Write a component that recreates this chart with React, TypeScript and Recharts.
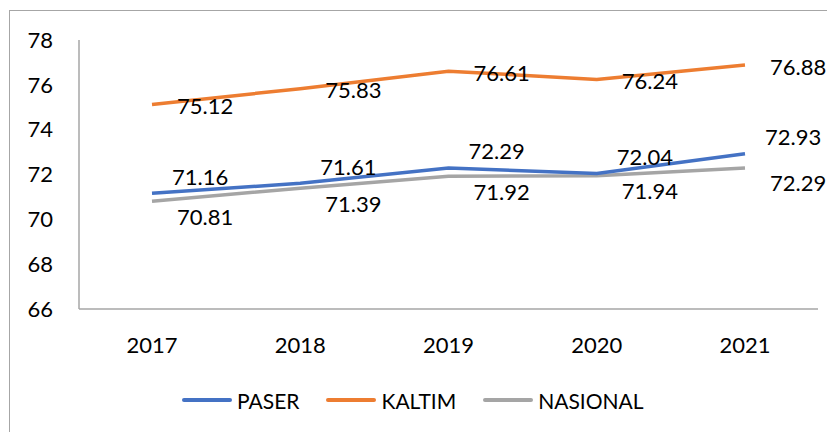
import React from "react";
import { LineChart, Line, XAxis, YAxis } from "recharts";

const years = ["2017", "2018", "2019", "2020", "2021"];
const paser = [71.16, 71.61, 72.29, 72.04, 72.93];
const kaltim = [75.12, 75.83, 76.61, 76.24, 76.88];
const nasional = [70.81, 71.39, 71.92, 71.94, 72.29];
const yTicks = [66, 68, 70, 72, 74, 76, 78];

const seriesNames = ["PASER", "KALTIM", "NASIONAL"];
const colors = ["#4472C4", "#ED7D31", "#A5A5A5"];

const data = years.map((y, i) => ({
  year: y,
  PASER: paser[i],
  KALTIM: kaltim[i],
  NASIONAL: nasional[i],
}));

const FONT = "Lato, 'Open Sans', sans-serif";

const makeLabel = (dx: number, dy: number) => (props: any) => {
  const { x, y, value, index } = props;
  return (
    <text
      key={index}
      x={x + dx}
      y={y + dy}
      textAnchor="start"
      dominantBaseline="central"
      fontSize={22}
      fontFamily={FONT}
      fill="#000"
    >
      {Number(value).toFixed(2)}
    </text>
  );
};

export default function App() {
  return (
    <div style={{ position: "relative", width: 827, height: 424 }}>
      <div
        style={{
          position: "absolute",
          left: 1,
          top: 2,
          width: 900,
          height: 500,
          borderTop: "1px solid #A6A6A6",
          borderLeft: "1px solid #A6A6A6",
          boxSizing: "border-box",
        }}
      />
      <div style={{ position: "absolute", left: -8, top: -8 }}>
        <LineChart
          width={835}
          height={432}
          data={data}
          margin={{ top: 40, right: 17, bottom: 93, left: 29 }}
        >
          <XAxis
            dataKey="year"
            padding={{ left: 73, right: 73 }}
            axisLine={{ stroke: "#A6A6A6", strokeWidth: 1.5 }}
            tickLine={false}
            tickSize={0}
            tickMargin={28}
            height={30}
            tick={{ fontSize: 22, fontFamily: FONT, fill: "#000" }}
          />
          <YAxis
            domain={[66, 78]}
            ticks={yTicks}
            width={50}
            axisLine={{ stroke: "#A6A6A6", strokeWidth: 1.5 }}
            tickLine={false}
            tickSize={0}
            tickMargin={26}
            tick={{ fontSize: 22, fontFamily: FONT, fill: "#000" }}
            interval={0}
          />
          <Line
            type="linear"
            dataKey="NASIONAL"
            stroke={colors[2]}
            strokeWidth={3.5}
            dot={false}
            isAnimationActive={false}
            label={makeLabel(25, 15)}
          />
          <Line
            type="linear"
            dataKey="PASER"
            stroke={colors[0]}
            strokeWidth={3.5}
            dot={false}
            isAnimationActive={false}
            label={makeLabel(20, -17)}
          />
          <Line
            type="linear"
            dataKey="KALTIM"
            stroke={colors[1]}
            strokeWidth={3.5}
            dot={false}
            isAnimationActive={false}
            label={makeLabel(25, 1)}
          />
        </LineChart>
      </div>
      <div
        style={{
          position: "absolute",
          left: 174,
          top: 379,
          display: "flex",
          alignItems: "center",
          fontFamily: FONT,
          fontSize: 21,
          color: "#000",
          height: 26,
        }}
      >
        {seriesNames.map((n, i) => (
          <div
            key={n}
            style={{ display: "flex", alignItems: "center", marginRight: 27 }}
          >
            <div
              style={{
                width: 50,
                height: 3.5,
                borderRadius: 2,
                background: colors[i],
                marginRight: 5,
              }}
            />
            <span>{n}</span>
          </div>
        ))}
      </div>
    </div>
  );
}
